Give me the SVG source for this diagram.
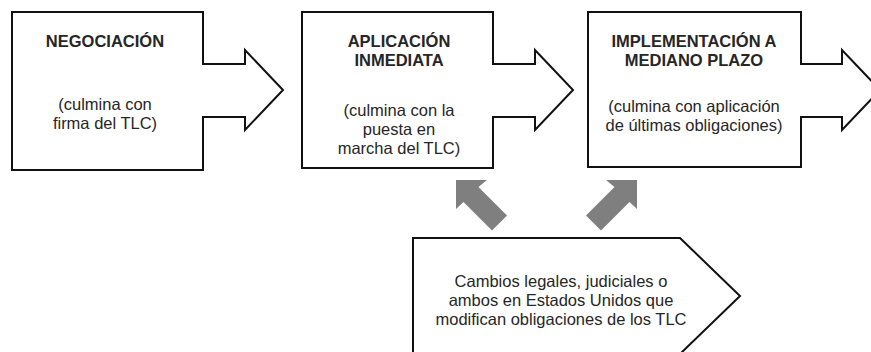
<svg xmlns="http://www.w3.org/2000/svg" width="871" height="352" viewBox="0 0 871 352">
<style>
.box{fill:#fff;stroke:#111;stroke-width:2;stroke-linejoin:miter}
.t{font-family:"Liberation Sans",Arial,sans-serif;font-size:16.5px;fill:#262626;text-anchor:middle}
.b{font-weight:bold}
.g{fill:#7f7f7f}
</style>
<rect width="871" height="352" fill="#fff"/>
<g id="negociacion">
<path class="box" d="M12,12 H203 V64 H245 V50 L283,90 L245,130 V117 H203 V170 H12 Z"/>
<text class="t b" x="105" y="47">NEGOCIACIÓN</text>
<text class="t" x="105" y="110">(culmina con</text>
<text class="t" x="105" y="128.5">firma del TLC)</text>
</g>
<g id="aplicacion">
<path class="box" d="M302,12 H493 V64 H535 V50 L573,90 L535,130 V117 H493 V168 H302 Z"/>
<text class="t b" x="399" y="47">APLICACIÓN</text>
<text class="t b" x="399" y="66">INMEDIATA</text>
<text class="t" x="399" y="116">(culmina con la</text>
<text class="t" x="399" y="135">puesta en</text>
<text class="t" x="399" y="154">marcha del TLC)</text>
</g>
<g id="implementacion">
<path class="box" d="M588,12 H801 V64 H842 V50 L880,90 L842,130 V117 H801 V167 H588 Z"/>
<text class="t b" x="694" y="47">IMPLEMENTACIÓN A</text>
<text class="t b" x="694" y="66">MEDIANO PLAZO</text>
<text class="t" x="694" y="112">(culmina con aplicación</text>
<text class="t" x="694" y="130.5">de últimas obligaciones)</text>
</g>
<g id="cambios">
<path class="box" d="M413,238 H680 L740,296 L680,354 H413 Z"/>
<text class="t" x="561" y="287">Cambios legales, judiciales o</text>
<text class="t" x="561" y="305.5">ambos en Estados Unidos que</text>
<text class="t" x="561" y="324.5">modifican obligaciones de los TLC</text>
</g>
<g id="connectors">
<polygon class="g" points="456,180 487,180 478.5,187 507,215.5 492,230.5 463.5,202 456,209"/>
<polygon class="g" points="637,180 606,180 614.5,187 586,215.5 601,230.5 629.5,202 637,209"/>
</g>
</svg>
